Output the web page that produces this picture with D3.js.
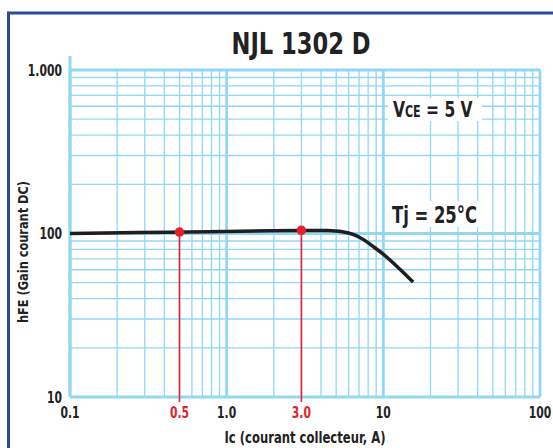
<!DOCTYPE html>
<html>
<head>
<meta charset="utf-8">
<script src="https://cdn.jsdelivr.net/npm/d3@7"></script>
<style>
  html, body { margin: 0; padding: 0; background: #fff; }
  svg { display: block; }
  text { font-family: "Liberation Sans Narrow", "Arial Narrow", "DejaVu Sans Condensed", sans-serif; font-weight: bold; fill: #222; }
</style>
</head>
<body>
<svg width="553" height="448"></svg>
<script>
// curve
const icValues = [0.1, 0.5, 1, 2, 3, 4.5, 5.5, 6.5, 7.5, 8.5, 10, 12, 14, 15.5];
const hfeValues = [100, 102, 103, 104, 104.5, 104.5, 103, 99, 92, 84, 75, 64, 55.5, 50.5];

// red marked points
const markIc = [0.5, 3];
const markHfe = [102, 104.5];

const xTicks = [0.1, 0.5, 1, 3, 10, 100];
const xTickLabels = ["0.1", "0.5", "1.0", "3.0", "10", "100"];
const yTicks = [10, 100, 1000];
const yTickLabels = ["10", "100", "1.000"];

const gridColor = "#92d7f3";
const red = "#e5202a";

function draw() {
	var svg = d3.select("svg");

	// frame
	svg.append("rect")
		.attr("x", 8.5).attr("y", 13)
		.attr("width", 600).attr("height", 500)
		.attr("fill", "none")
		.attr("stroke", "#2c4a9c")
		.attr("stroke-width", 3);

	var x = d3.scaleLog().domain([0.1, 100]).range([70, 540]);
	var y = d3.scaleLog().domain([10, 1000]).range([397, 70]);

	var isMajor = (v) => Math.abs(Math.log10(v) - Math.round(Math.log10(v))) < 1e-9;

	var grid = svg.append("g").attr("class", "grid");

	grid.selectAll("line.h")
		.data(y.ticks())
		.enter().append("line")
		.attr("class", "h")
		.attr("x1", x(0.1)).attr("x2", x(100))
		.attr("y1", (d) => y(d)).attr("y2", (d) => y(d))
		.attr("stroke", gridColor)
		.attr("stroke-width", (d) => isMajor(d) ? 2.8 : 1.3);

	grid.selectAll("line.v")
		.data(x.ticks())
		.enter().append("line")
		.attr("class", "v")
		.attr("y1", y(1000)).attr("y2", y(10))
		.attr("x1", (d) => x(d)).attr("x2", (d) => x(d))
		.attr("stroke", gridColor)
		.attr("stroke-width", (d) => isMajor(d) ? 2.8 : 1.3);

	// left axis runs a little above the top line
	grid.append("line")
		.attr("x1", x(0.1)).attr("x2", x(0.1))
		.attr("y1", 56).attr("y2", y(10))
		.attr("stroke", gridColor)
		.attr("stroke-width", 3);

	// labels with white boxes
	svg.append("rect").attr("x", 388).attr("y", 98).attr("width", 94).attr("height", 23).attr("fill", "#fff");
	var vce = svg.append("text")
		.attr("transform", "translate(393,117) scale(0.82,1)")
		.attr("font-size", 21);
	vce.append("tspan").text("V");
	vce.append("tspan").attr("font-size", 15).text("CE");
	vce.append("tspan").text(" = 5 V");

	svg.append("rect").attr("x", 388).attr("y", 201).attr("width", 94).attr("height", 26).attr("fill", "#fff");
	svg.append("text")
		.attr("x", 392).attr("y", 223)
		.attr("font-size", 23)
		.attr("textLength", 85).attr("lengthAdjust", "spacingAndGlyphs")
		.text("Tj = 25°C");

	// red markers
	var marks = markIc.map((d, i) => ({ ic: d, hfe: markHfe[i] }));
	svg.append("g").selectAll("line")
		.data(marks)
		.enter().append("line")
		.attr("x1", (d) => x(d.ic)).attr("x2", (d) => x(d.ic))
		.attr("y1", (d) => y(d.hfe)).attr("y2", 402)
		.attr("stroke", red)
		.attr("stroke-width", 1.6);

	// curve
	var line = d3.line()
		.x((d) => x(d[0]))
		.y((d) => y(d[1]))
		.curve(d3.curveBasis);

	svg.append("path")
		.datum(icValues.map((d, i) => [d, hfeValues[i]]))
		.attr("d", line)
		.attr("fill", "none")
		.attr("stroke", "#1e1e1e")
		.attr("stroke-width", 3.5);

	svg.append("g").selectAll("circle")
		.data(marks)
		.enter().append("circle")
		.attr("cx", (d) => x(d.ic))
		.attr("cy", (d) => y(d.hfe))
		.attr("r", 4.8)
		.attr("fill", red);

	// tick labels (squeezed to look condensed)
	svg.append("g").selectAll("text")
		.data(xTicks)
		.enter().append("text")
		.attr("transform", (d) => `translate(${x(d)},418) scale(0.8,1)`)
		.attr("text-anchor", "middle")
		.attr("font-size", 15)
		.style("fill", (d) => (d === 0.5 || d === 3) ? red : "#222")
		.text((d, i) => xTickLabels[i]);

	svg.append("g").selectAll("text")
		.data(yTicks)
		.enter().append("text")
		.attr("transform", (d) => `translate(62,${y(d) + 5.5}) scale(0.8,1)`)
		.attr("text-anchor", "end")
		.attr("font-size", 15)
		.text((d, i) => yTickLabels[i]);

	// titles
	svg.append("text")
		.attr("x", 301).attr("y", 54)
		.attr("text-anchor", "middle")
		.attr("font-size", 30)
		.attr("textLength", 139).attr("lengthAdjust", "spacingAndGlyphs")
		.text("NJL 1302 D");

	svg.append("text")
		.attr("x", 305).attr("y", 443)
		.attr("text-anchor", "middle")
		.attr("font-size", 15)
		.attr("textLength", 161).attr("lengthAdjust", "spacingAndGlyphs")
		.text("Ic (courant collecteur, A)");

	svg.append("text")
		.attr("transform", "translate(28,252) rotate(-90)")
		.attr("text-anchor", "middle")
		.attr("font-size", 14)
		.attr("textLength", 142).attr("lengthAdjust", "spacingAndGlyphs")
		.text("hFE (Gain courant DC)");
}

draw();
</script>
</body>
</html>
